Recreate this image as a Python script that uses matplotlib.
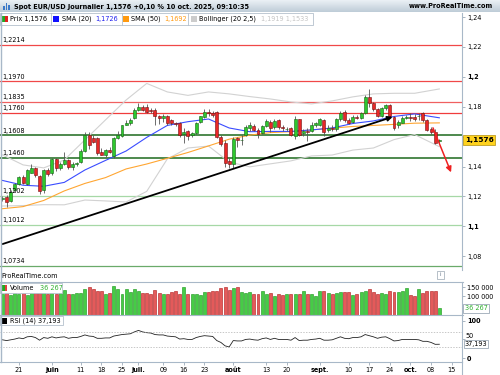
import numpy as np
import pandas as pd
import matplotlib
matplotlib.use("Agg")
import matplotlib.pyplot as plt
import matplotlib.transforms as mtransforms
from matplotlib.patches import Rectangle

plt.rcParams["font.family"] = "DejaVu Sans"

# daily bars, 15 May -> 10 Oct 2025
opens = [1.1185, 1.1195, 1.1168, 1.1243, 1.1284, 1.1330, 1.1280, 1.1360, 1.1389, 1.1337,
         1.1240, 1.1377, 1.1355, 1.1449, 1.1389, 1.1419, 1.1446, 1.1395, 1.1420, 1.1433,
         1.1504, 1.1611, 1.1589, 1.1589, 1.1500, 1.1480, 1.1511, 1.1470, 1.1589, 1.1605,
         1.1680, 1.1690, 1.1725, 1.1780, 1.1800, 1.1800, 1.1778, 1.1778, 1.1738, 1.1728,
         1.1735, 1.1710, 1.1690, 1.1690, 1.1615, 1.1640, 1.1610, 1.1625, 1.1700, 1.1734,
         1.1767, 1.1760, 1.1763, 1.1600, 1.1556, 1.1437, 1.1415, 1.1590, 1.1575, 1.1610,
         1.1660, 1.1672, 1.1645, 1.1623, 1.1672, 1.1700, 1.1662, 1.1708, 1.1665, 1.1650,
         1.1655, 1.1605, 1.1716, 1.1625, 1.1640, 1.1640, 1.1680, 1.1678, 1.1708, 1.1645,
         1.1660, 1.1652, 1.1716, 1.1765, 1.1712, 1.1700, 1.1734, 1.1723, 1.1756, 1.1868,
         1.1823, 1.1783, 1.1738, 1.1790, 1.1812, 1.1734, 1.1680, 1.1694, 1.1723, 1.1730,
         1.1730, 1.1735, 1.1760, 1.1712, 1.1650, 1.1633, 1.1570]
highs = [1.1200, 1.1210, 1.1240, 1.1290, 1.1340, 1.1345, 1.1385, 1.1420, 1.1400, 1.1345,
         1.1385, 1.1390, 1.1455, 1.1455, 1.1430, 1.1495, 1.1452, 1.1430, 1.1432, 1.1515,
         1.1630, 1.1632, 1.1610, 1.1600, 1.1525, 1.1520, 1.1530, 1.1595, 1.1640, 1.1680,
         1.1710, 1.1725, 1.1790, 1.1827, 1.1810, 1.1815, 1.1790, 1.1790, 1.1745, 1.1750,
         1.1745, 1.1720, 1.1700, 1.1700, 1.1660, 1.1645, 1.1630, 1.1700, 1.1740, 1.1785,
         1.1785, 1.1770, 1.1770, 1.1610, 1.1575, 1.1460, 1.1595, 1.1595, 1.1610, 1.1680,
         1.1700, 1.1685, 1.1655, 1.1680, 1.1715, 1.1710, 1.1715, 1.1715, 1.1680, 1.1665,
         1.1665, 1.1740, 1.1720, 1.1650, 1.1660, 1.1695, 1.1700, 1.1725, 1.1715, 1.1675,
         1.1680, 1.1725, 1.1770, 1.1775, 1.1725, 1.1745, 1.1745, 1.1765, 1.1880, 1.1918,
         1.1830, 1.1790, 1.1800, 1.1820, 1.1820, 1.1740, 1.1710, 1.1740, 1.1745, 1.1760,
         1.1750, 1.1760, 1.1765, 1.1720, 1.1665, 1.1650, 1.1585]
lows = [1.1170, 1.1132, 1.1160, 1.1230, 1.1275, 1.1285, 1.1275, 1.1355, 1.1330, 1.1215,
        1.1225, 1.1340, 1.1345, 1.1370, 1.1380, 1.1410, 1.1385, 1.1380, 1.1405, 1.1425,
        1.1495, 1.1520, 1.1560, 1.1480, 1.1475, 1.1465, 1.1490, 1.1455, 1.1585, 1.1600,
        1.1675, 1.1680, 1.1720, 1.1770, 1.1770, 1.1760, 1.1760, 1.1680, 1.1685, 1.1700,
        1.1680, 1.1680, 1.1670, 1.1600, 1.1560, 1.1580, 1.1600, 1.1615, 1.1690, 1.1725,
        1.1740, 1.1730, 1.1590, 1.1540, 1.1400, 1.1390, 1.1390, 1.1533, 1.1545, 1.1605,
        1.1640, 1.1635, 1.1590, 1.1615, 1.1665, 1.1630, 1.1650, 1.1650, 1.1640, 1.1635,
        1.1605, 1.1585, 1.1605, 1.1605, 1.1570, 1.1630, 1.1665, 1.1670, 1.1605, 1.1630,
        1.1640, 1.1640, 1.1705, 1.1700, 1.1685, 1.1690, 1.1715, 1.1715, 1.1750, 1.1800,
        1.1770, 1.1730, 1.1730, 1.1780, 1.1730, 1.1645, 1.1655, 1.1690, 1.1715, 1.1705,
        1.1705, 1.1710, 1.1700, 1.1640, 1.1620, 1.1550, 1.1560]
closes = [1.1188, 1.1165, 1.1232, 1.1282, 1.1328, 1.1292, 1.1377, 1.1389, 1.1344, 1.1235,
          1.1377, 1.1350, 1.1449, 1.1389, 1.1419, 1.1446, 1.1395, 1.1419, 1.1423, 1.1506,
          1.1611, 1.1544, 1.1567, 1.1489, 1.1480, 1.1511, 1.1500, 1.1589, 1.1611, 1.1678,
          1.1694, 1.1710, 1.1780, 1.1800, 1.1780, 1.1767, 1.1770, 1.1735, 1.1728, 1.1740,
          1.1690, 1.1690, 1.1683, 1.1612, 1.1630, 1.1605, 1.1622, 1.1694, 1.1735, 1.1767,
          1.1757, 1.1745, 1.1600, 1.1550, 1.1426, 1.1415, 1.1585, 1.1578, 1.1580, 1.1667,
          1.1675, 1.1645, 1.1618, 1.1672, 1.1702, 1.1655, 1.1702, 1.1665, 1.1655, 1.1652,
          1.1612, 1.1716, 1.1612, 1.1640, 1.1632, 1.1680, 1.1690, 1.1716, 1.1633, 1.1655,
          1.1650, 1.1716, 1.1760, 1.1710, 1.1694, 1.1734, 1.1728, 1.1756, 1.1868, 1.1823,
          1.1783, 1.1738, 1.1790, 1.1812, 1.1738, 1.1660, 1.1700, 1.1723, 1.1733, 1.1728,
          1.1720, 1.1740, 1.1712, 1.1645, 1.1630, 1.1560, 1.1576]
volumes = [112, 120, 106, 118, 112, 125, 108, 116, 122, 130, 140, 115, 118, 110, 125,
           134, 115, 111, 119, 119, 137, 148, 137, 130, 130, 115, 119, 157, 137, 115,
           137, 124, 139, 130, 119, 119, 111, 134, 119, 111, 111, 122, 130, 115, 148,
           115, 111, 115, 106, 121, 121, 130, 130, 143, 148, 134, 146, 148, 124, 119,
           124, 111, 111, 130, 115, 119, 100, 111, 106, 111, 111, 111, 111, 130, 111,
           111, 100, 130, 130, 119, 111, 119, 121, 121, 121, 106, 111, 124, 130, 139,
           124, 115, 119, 115, 130, 121, 121, 130, 143, 106, 100, 139, 119, 130, 130,
           130, 36.267]
rsi = [49, 47, 49, 51, 54, 52, 57, 58, 55, 48, 55, 53, 57, 54, 56, 57, 53, 55, 55, 58,
       62, 59, 58, 53, 53, 54, 54, 59, 61, 63, 64, 65, 70, 74, 70, 68, 67, 63, 62, 62,
       59, 58, 57, 51, 52, 50, 50, 55, 58, 60, 59, 58, 47, 42, 33, 30, 47, 46, 46, 50,
       51, 49, 48, 52, 54, 50, 53, 50, 50, 50, 48, 55, 47, 48, 48, 50, 51, 53, 48, 48,
       49, 53, 57, 53, 52, 55, 55, 57, 63, 60, 57, 53, 56, 57, 52, 46, 47, 50, 50, 50,
       50, 49, 45, 45, 42, 37, 37.193]

# indicator lines read every 5 bars
ind_idx = [0, 5, 10, 15, 20, 25, 30, 35, 40, 45, 50, 55, 60, 65, 70, 75, 80, 85, 90, 95, 100, 106]
sma20 = [1.1307, 1.1275, 1.1268, 1.1294, 1.1377, 1.1441, 1.1504, 1.1595, 1.1675, 1.1700, 1.1718,
         1.1658, 1.1633, 1.1635, 1.1635, 1.1645, 1.1658, 1.1688, 1.1705, 1.1735, 1.1752, 1.1726]
sma50 = [1.1118, 1.1132, 1.1173, 1.1237, 1.1287, 1.1326, 1.1384, 1.1417, 1.1455, 1.1494, 1.1538,
         1.1583, 1.1610, 1.1627, 1.1633, 1.1645, 1.1657, 1.1668, 1.1675, 1.1682, 1.1690, 1.1692]
bb_upper = [1.1478, 1.1411, 1.1391, 1.1444, 1.1578, 1.1712, 1.1845, 1.1956, 1.1899, 1.1876, 1.1899,
            1.1886, 1.1868, 1.1852, 1.1832, 1.1819, 1.1839, 1.1866, 1.1886, 1.1890, 1.1890, 1.1919]

levels = [1.2214, 1.1970, 1.1835, 1.1760, 1.1608, 1.1460, 1.1202, 1.1012, 1.0734]
level_colors = ["#f04848", "#f04848", "#f06060", "#f03c3c", "#1c6a1c", "#1c6a1c",
                "#a6d8a6", "#a6d8a6", "#6aaa6a"]

# drawn lines (bar index, price)
trend_x = [-0.6, 95.3]
trend_y = [1.0876, 1.1738]
target_x = [104.2, 109.1]
target_y = [1.1676, 1.1344]

tick_dates = ["2025-05-21", "2025-06-02", "2025-06-11", "2025-06-18", "2025-06-25",
              "2025-07-01", "2025-07-09", "2025-07-16", "2025-07-23", "2025-08-01",
              "2025-08-13", "2025-08-20", "2025-09-01", "2025-09-10", "2025-09-17",
              "2025-09-24", "2025-10-01", "2025-10-08", "2025-10-15"]
tick_labels = ["21", "juin", "11", "18", "25", "juil.", "09", "16", "23", "août",
               "13", "20", "sept.", "10", "17", "24", "oct.", "08", "15"]
month_labels = {"juin", "juil.", "août", "sept.", "oct."}

W, H = 500, 375
FS = 4.7
EDGE = "#a8b8c8"
LBL_X = 1.0076  # right-axis label column, in axes fraction

days = pd.bdate_range("2025-05-15", "2025-10-17")
idx = np.arange(len(closes))
o, h, l, c = (np.array(a) for a in (opens, highs, lows, closes))
up = c >= o
xlim = (-0.6, 111.5)


def box(x0, y0, x1, y1):
    return [x0 / W, 1 - y1 / H, (x1 - x0) / W, (y1 - y0) / H]


def ptext(x, y, s, **kw):
    kw.setdefault("fontsize", FS)
    kw.setdefault("va", "center")
    fig.text(x / W, 1 - y / H, s, **kw)


def prect(x0, y0, x1, y1, **kw):
    fig.patches.append(Rectangle((x0 / W, 1 - y1 / H), (x1 - x0) / W, (y1 - y0) / H,
                                 transform=fig.transFigure, **kw))


fig = plt.figure(figsize=(W / 100, H / 100), dpi=100)
fig.patch.set_facecolor("white")

ax = fig.add_axes(box(0, 13, 462, 270))
axv = fig.add_axes(box(0, 282, 462, 315))
axr = fig.add_axes(box(0, 315, 462, 362))

for a in (ax, axv, axr):
    a.set_xlim(*xlim)
    a.set_facecolor("none")
    for s in ("top", "bottom", "left"):
        a.spines[s].set_visible(False)
    a.spines["right"].set_color(EDGE)
    a.spines["right"].set_linewidth(0.8)
    a.yaxis.tick_right()
    a.tick_params(axis="y", length=2, width=0.5, color="#8898a8", pad=1.5, labelsize=FS)

# ---- price panel
ax.set_ylim(1.0708, 1.2427)
ax.set_xticks([])

for lv, col in zip(levels, level_colors):
    lw = 1.1 if col == "#1c6a1c" else 0.9
    ax.axhline(lv, color=col, lw=lw, zorder=1)
    ax.text(0.0, lv + 0.0011, f"{lv:.4f}".replace(".", ","), fontsize=FS,
            va="bottom", ha="left", zorder=6)

ax.plot(ind_idx, bb_upper, color="#d2d2d2", lw=0.8, zorder=2)
bb_lower = 2 * np.array(sma20) - np.array(bb_upper)
ax.plot(ind_idx, bb_lower, color="#d2d2d2", lw=0.8, zorder=2)
ax.plot(ind_idx, sma50, color="#ffa632", lw=0.8, zorder=2)
ax.plot(ind_idx, sma20, color="#3a4cff", lw=0.8, zorder=2)

ax.vlines(idx, l, h, color="#555555", lw=0.6, zorder=3)
body_lo = np.minimum(o, c)
body_h = np.maximum(np.abs(c - o), 0.0003)
ax.bar(idx[up], body_h[up], bottom=body_lo[up], width=0.72, color="#2ec82e",
       edgecolor="#156015", lw=0.4, zorder=4)
ax.bar(idx[~up], body_h[~up], bottom=body_lo[~up], width=0.72, color="#e82828",
       edgecolor="#701010", lw=0.4, zorder=4)

ax.annotate("", xy=(trend_x[1], trend_y[1]), xytext=(trend_x[0], trend_y[0]),
            arrowprops=dict(arrowstyle="-|>", color="black", lw=1.3, mutation_scale=7),
            zorder=5)
ax.annotate("", xy=(target_x[1], target_y[1]), xytext=(target_x[0], target_y[0]),
            arrowprops=dict(arrowstyle="-|>", color="#ee2020", lw=1.1, mutation_scale=8),
            zorder=5)

# 1,16 sits under the last-price tag, so its label is left empty
yt = [1.08, 1.10, 1.12, 1.14, 1.16, 1.18, 1.20, 1.22, 1.24]
ax.set_yticks(yt)
ax.set_yticklabels(["" if v == 1.16 else f"{v:.2f}".rstrip("0").replace(".", ",") for v in yt])
for t, v in zip(ax.get_yticklabels(), yt):
    if v in (1.10, 1.20):
        t.set_fontweight("bold")

tr = mtransforms.blended_transform_factory(ax.transAxes, ax.transData)
ax.text(1.006, closes[-1], f"{closes[-1]:.4f}".replace(".", ","), transform=tr,
        fontsize=FS + 0.6, fontweight="bold", va="center", ha="left", zorder=10,
        bbox=dict(boxstyle="square,pad=0.25", fc="#ffd21e", ec="#b09010", lw=0.5))

# ---- volume panel
axv.set_ylim(0, 177)
axv.set_xticks([])
vcol = np.where(up, "#46cc46", "#e45a5a")
vedge = np.where(up, "#149414", "#b01818")
axv.bar(idx, volumes, width=0.72, color=vcol, edgecolor=vedge, lw=0.4)
axv.set_yticks([100, 150])
axv.set_yticklabels(["100 000", "150 000"])
trv = mtransforms.blended_transform_factory(axv.transAxes, axv.transData)
axv.text(1.006, volumes[-1], "36 267", transform=trv, fontsize=FS, color="#30b030",
         va="center", ha="left", bbox=dict(boxstyle="square,pad=0.2", fc="white", ec="#8898a8", lw=0.5))

# ---- RSI panel
axr.set_ylim(-10, 115)
axr.plot(idx, rsi, color="#222222", lw=0.6)
for lvl in (70, 30):
    axr.axhline(lvl, color="#b0b0b0", lw=0.5, ls=(0, (2, 2)))
axr.set_yticks([0, 50, 100])
axr.set_yticklabels(["0", "", "100"])
for t in axr.get_yticklabels():
    t.set_fontweight("bold")
trr = mtransforms.blended_transform_factory(axr.transAxes, axr.transData)
axr.text(LBL_X, 52, "50", transform=trr, fontsize=FS, va="bottom", ha="left")
axr.text(1.006, rsi[-1], "37,193", transform=trr, fontsize=FS, va="center", ha="left",
         bbox=dict(boxstyle="square,pad=0.15", fc="white", ec="#8898a8", lw=0.5))
axr.spines["bottom"].set_visible(True)
axr.spines["bottom"].set_color(EDGE)
axr.spines["bottom"].set_linewidth(0.8)

tick_pos = [days.get_loc(pd.Timestamp(d)) for d in tick_dates]
axr.set_xticks(tick_pos)
axr.set_xticklabels(tick_labels)
axr.tick_params(axis="x", length=2, width=0.5, color="#8898a8", pad=1.5, labelsize=FS)
for t in axr.get_xticklabels():
    if t.get_text() in month_labels:
        t.set_fontweight("bold")

# ---- frame lines
fig.add_artist(plt.Line2D([0.5 / W, 0.5 / W], [1 - 13 / H, 1 - 362 / H], color=EDGE, lw=1.0))
fig.add_artist(plt.Line2D([462 / W, 462 / W], [1 - 362 / H, 0], color=EDGE, lw=0.8))
fig.add_artist(plt.Line2D([0, 463 / W], [1 - 282.3 / H] * 2, color=EDGE, lw=0.8))
fig.add_artist(plt.Line2D([0, 463 / W], [1 - 315.3 / H] * 2, color=EDGE, lw=0.8))

# ---- title bar
axt = fig.add_axes(box(0, 0, 500, 12.5))
grad = np.linspace(0, 1, 20).reshape(-1, 1)
axt.imshow(grad, aspect="auto", cmap=matplotlib.colors.LinearSegmentedColormap.from_list(
    "bar", ["#eef3f7", "#bfcdd8"]), extent=(0, 1, 0, 1))
axt.axis("off")
for k, hh in enumerate([4, 7, 5]):
    prect(3 + k * 2.6, 10 - hh, 4.6 + k * 2.6, 10, color="#3a78c8", lw=0)
ptext(14, 6.5, "Spot EUR/USD Journalier 1,1576 +0,10 % 10 oct. 2025, 09:10:35",
      fontweight="bold")
ptext(493, 6.5, "www.ProRealTime.com", fontweight="bold", ha="right")

# ---- legend row of price panel
prect(0, 13, 313, 24.5, fc="white", ec="#b4c0cc", lw=0.6)
for sx in (50.5, 121.5, 187.5):
    fig.add_artist(plt.Line2D([sx / W] * 2, [1 - 13 / H, 1 - 24.5 / H], color="#b4c0cc", lw=0.6))
prect(1.5, 15.5, 4.5, 22, color="#22aa22", lw=0)
prect(4.5, 15.5, 7.5, 22, color="#e02020", lw=0)
ptext(9.5, 18.8, "Prix 1,1576")
prect(53, 15.5, 59, 22, color="#1010ff", lw=0)
ptext(62, 18.8, "SMA (20)")
ptext(95, 18.8, "1,1726", color="#2020ee")
prect(123, 15.5, 129, 22, color="#ff9a10", lw=0)
ptext(131, 18.8, "SMA (50)")
ptext(164, 18.8, "1,1692", color="#ff9a10")
prect(191, 15.5, 197, 22, color="#cccccc", lw=0)
ptext(199, 18.8, "Bollinger (20 2,5)")
ptext(261, 18.8, "1,1919 1,1533", color="#c4c4c4")

# ---- sub panel captions
ptext(1, 275.5, "ProRealTime.com")
prect(437, 271, 444, 279, fc="white", ec="#9aa6b2", lw=0.5)
ptext(440.5, 275, "i", fontsize=4, ha="center", color="#667788")
prect(0, 283, 62, 293, fc="white", ec="#b4c0cc", lw=0.6)
prect(2, 285, 4.5, 291, color="#22aa22", lw=0)
prect(4.5, 285, 7, 291, color="#e04040", lw=0)
ptext(10, 288.2, "Volume")
ptext(40, 288.2, "36 267", color="#30b030")
prect(0, 316, 63, 325, fc="white", ec="#b4c0cc", lw=0.6)
prect(2, 318, 7, 323.5, color="black", lw=0)
ptext(10, 320.8, "RSI (14) 37,193")

fig.savefig("out.png", dpi=100)
